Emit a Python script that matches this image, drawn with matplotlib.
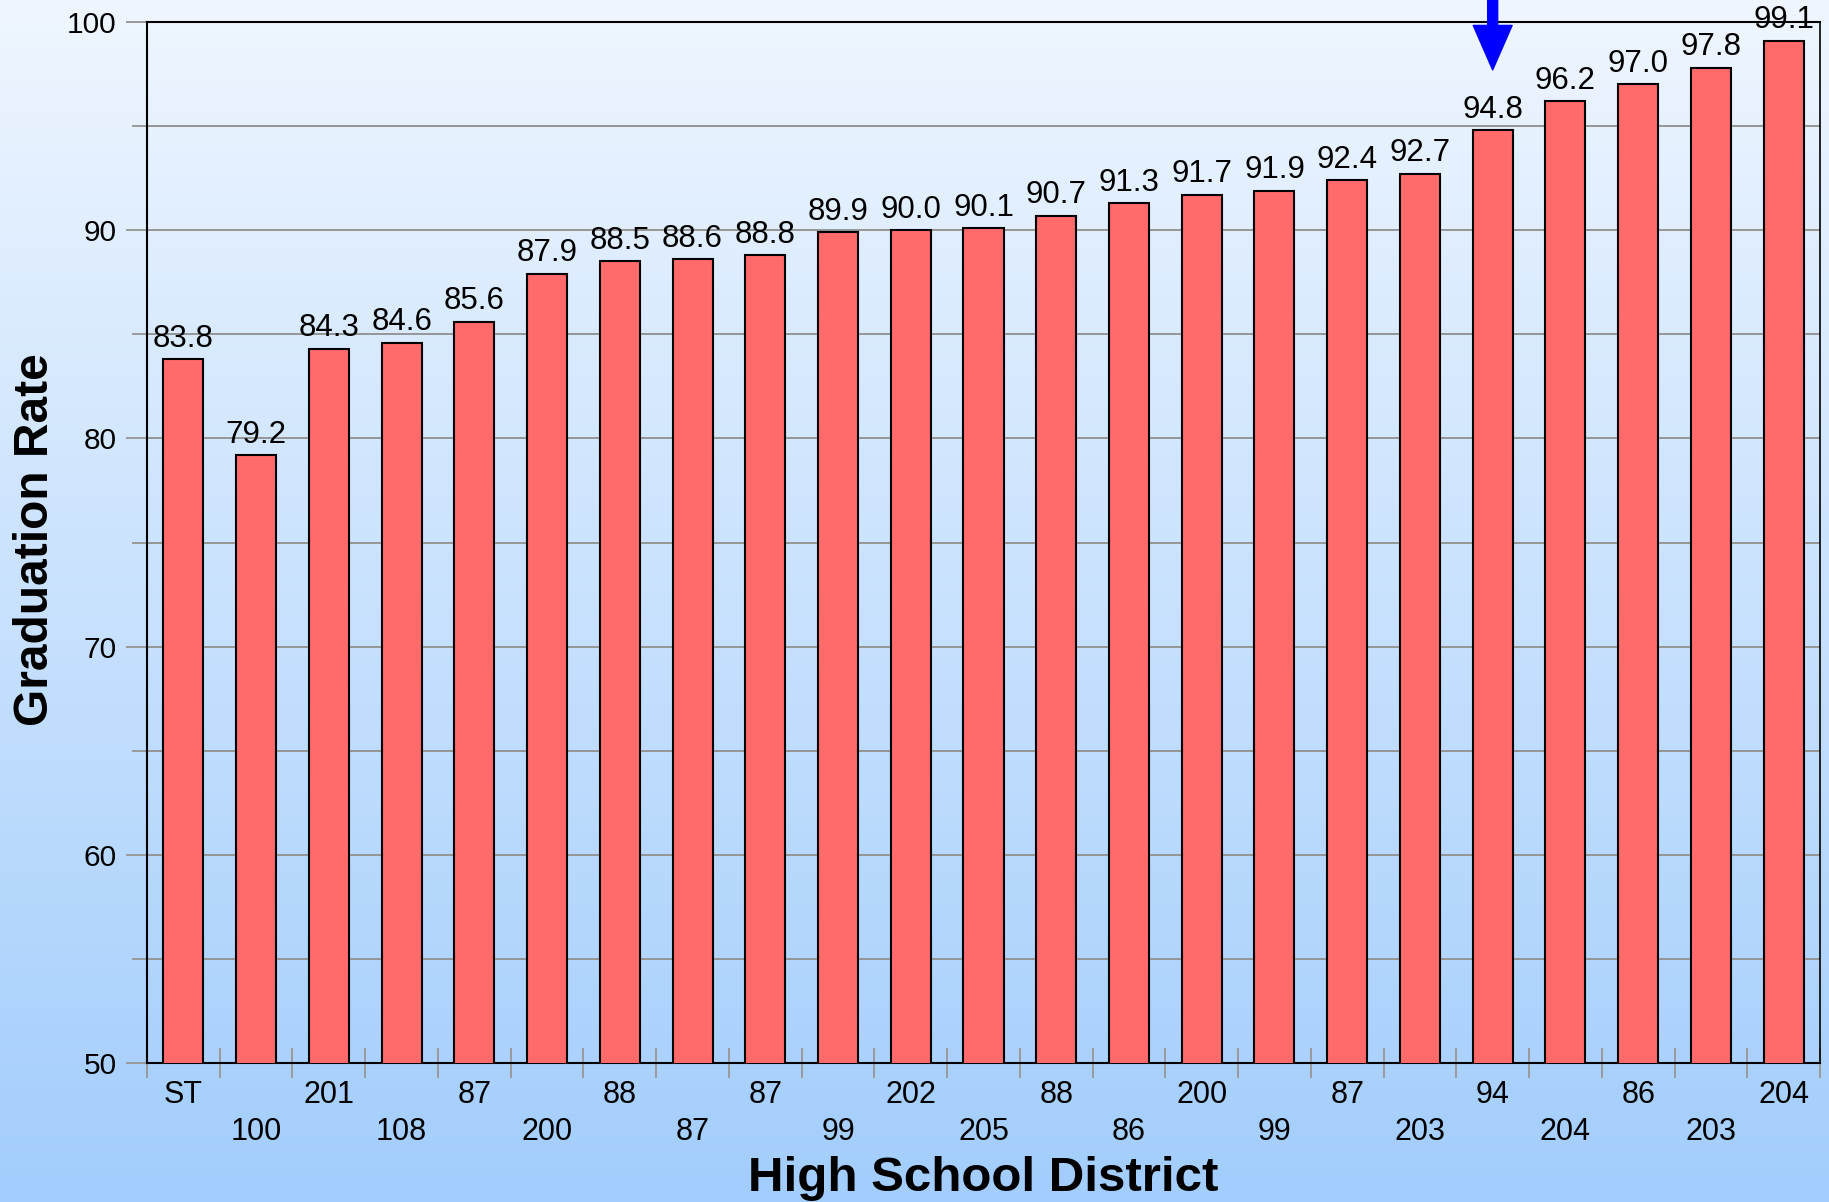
import numpy as np
import matplotlib.pyplot as plt
from matplotlib.colors import LinearSegmentedColormap

plt.rcParams['font.family'] = ['Liberation Sans', 'DejaVu Sans']

# Datos: distritos y tasas de graduacion
distritos = ["ST", "100", "201", "108", "87", "200", "88", "87", "87", "99",
             "202", "205", "88", "86", "200", "99", "87", "203", "94", "204",
             "86", "203", "204"]
tasas = [83.8, 79.2, 84.3, 84.6, 85.6, 87.9, 88.5, 88.6, 88.8, 89.9,
         90.0, 90.1, 90.7, 91.3, 91.7, 91.9, 92.4, 92.7, 94.8, 96.2,
         97.0, 97.8, 99.1]
destacado = 18          # distrito senalado con la flecha
y_ticks = [50, 60, 70, 80, 90, 100]

W, H = 1829, 1202
fig = plt.figure(figsize=(W / 100, H / 100), dpi=100)

# Fondo degradado
bg = fig.add_axes([0, 0, 1, 1], zorder=-10)
cmap = LinearSegmentedColormap.from_list("fondo", ["#EFF6FF", "#A2CDFC"])
bg.imshow(np.linspace(0, 1, 256).reshape(-1, 1), cmap=cmap, aspect="auto",
          extent=[0, 1, 0, 1], origin="upper")
bg.axis("off")

ax = fig.add_axes([147 / W, 1 - 1063 / H, (1820 - 147) / W, (1063 - 22) / H])
ax.patch.set_alpha(0)

x = np.arange(len(tasas))
bars = ax.bar(x, tasas, width=0.55, color="#FF6A6A", edgecolor="black",
              linewidth=1.5, zorder=3)
ax.bar_label(bars, labels=[f"{v:.1f}" for v in tasas], padding=4,
             fontsize=22.5, zorder=4)

ax.set_xlim(-0.5, len(tasas) - 0.5)
ax.set_ylim(50, 100)

# Eje Y
ax.set_yticks(y_ticks)
ax.set_yticks(np.arange(55, 100, 10), minor=True)
ax.tick_params(axis="y", which="major", length=15, width=1.4, color="#9a9a9a",
               labelsize=21.5, pad=7)
ax.tick_params(axis="y", which="minor", length=11, width=1.4, color="#9a9a9a")
ax.grid(axis="y", which="both", color="#959595", linewidth=1.4, zorder=0)
ax.set_axisbelow(True)

# Eje X: etiquetas alternadas en dos filas
etiquetas = [d if i % 2 == 0 else "\n" + d for i, d in enumerate(distritos)]
ax.set_xticks(x, labels=etiquetas)
ax.set_xticks(np.arange(-0.5, len(tasas), 1), minor=True)
ax.tick_params(axis="x", which="major", length=0, labelsize=22, pad=12)
ax.tick_params(axis="x", which="minor", length=22, width=1.4,
               color="#9a9a9a", direction="inout")
for t in ax.get_xticklabels():
    t.set_linespacing(1.3)

for lado in ["left", "top", "bottom"]:
    ax.spines[lado].set_linewidth(1.5)
ax.spines["right"].set_linewidth(1.2)

# Flecha azul
ax.annotate("", xy=(destacado, 97.7), xytext=(destacado, 101.2),
            arrowprops=dict(arrowstyle="simple,head_width=1.4,head_length=1.6,tail_width=0.36",
                            color="blue", mutation_scale=20, shrinkA=0, shrinkB=0),
            annotation_clip=False, zorder=5)

# Titulos de ejes
fig.text(36 / W, 1 - 540 / H, "Graduation Rate", rotation=90, ha="center",
         va="center", fontsize=34.5, fontweight="bold")
fig.text(983 / W, 1 - 1191 / H, "High School District", ha="center",
         va="baseline", fontsize=35.5, fontweight="bold")

fig.savefig("out.png", dpi=100)
